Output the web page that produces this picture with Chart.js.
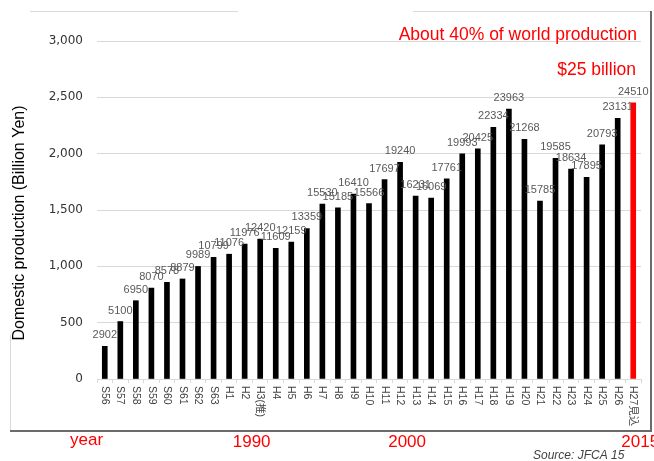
<!DOCTYPE html>
<html>
<head>
<meta charset="utf-8">
<script src="https://cdn.jsdelivr.net/npm/chart.js@4.4.1/dist/chart.umd.min.js"></script>
<style>
  html, body { margin: 0; padding: 0; background: #ffffff; }
  canvas { display: block; }
</style>
</head>
<body>
<canvas id="chart" width="654" height="461"></canvas>
<script>
// Fiscal years (Showa / Heisei era)
const categories = [
  'S56', 'S57', 'S58', 'S59', 'S60', 'S61', 'S62', 'S63',
  'H1', 'H2', 'H3(推)', 'H4', 'H5', 'H6', 'H7', 'H8', 'H9', 'H10',
  'H11', 'H12', 'H13', 'H14', 'H15', 'H16', 'H17', 'H18', 'H19', 'H20',
  'H21', 'H22', 'H23', 'H24', 'H25', 'H26', 'H27見込'
];

// Domestic production, in units of 100 million yen
const production = [
  2902, 5100, 6950, 8070, 8578, 8879, 9989, 10799,
  11076, 11976, 12420, 11609, 12159, 13359, 15530, 15185, 16410, 15566,
  17697, 19240, 16231, 16069, 17761, 19993, 20425, 22334, 23963, 21268,
  15785, 19585, 18634, 17895, 20793, 23131, 24510
];

// Calendar years marked under the axis, keyed by category
const yearMarkCategories = ['H2', 'H12', 'H27見込'];
const yearMarkLabels = ['1990', '2000', '2015'];

const headline = 'About 40% of world production';
const subHeadline = '$25 billion';
const axisTitle = 'Domestic production (Billion Yen)';
const sourceNote = 'Source: JFCA 15';

const RED = '#ff0000';

// Outer frame around the figure
const framePlugin = {
  id: 'frame',
  beforeDraw(chart) {
    const ctx = chart.ctx;
    ctx.save();
    ctx.strokeStyle = '#d9d9d9';
    ctx.lineWidth = 1;
    ctx.beginPath();
    ctx.moveTo(30, 11.5); ctx.lineTo(238, 11.5);
    ctx.moveTo(413, 11.5); ctx.lineTo(651, 11.5);
    ctx.moveTo(10.5, 335); ctx.lineTo(10.5, 430);
    ctx.stroke();
    ctx.strokeStyle = '#6b6b6b';
    ctx.lineWidth = 2;
    ctx.beginPath();
    ctx.moveTo(651, 11); ctx.lineTo(651, 431);
    ctx.moveTo(10, 431); ctx.lineTo(652, 431);
    ctx.stroke();
    ctx.restore();
  }
};

// Value printed above each bar
const valueLabelPlugin = {
  id: 'valueLabels',
  afterDatasetsDraw(chart) {
    const ctx = chart.ctx;
    const meta = chart.getDatasetMeta(0);
    const values = chart.data.datasets[0].data;
    ctx.save();
    ctx.font = '11px "Liberation Sans", Arial, sans-serif';
    ctx.fillStyle = '#595959';
    ctx.textAlign = 'center';
    ctx.textBaseline = 'alphabetic';
    meta.data.forEach((bar, i) => {
      ctx.fillText(String(values[i]), bar.x, bar.y - 8);
    });
    ctx.restore();
  }
};

// Category labels, rotated to read top to bottom
const categoryLabelPlugin = {
  id: 'categoryLabels',
  afterDraw(chart) {
    const ctx = chart.ctx;
    const xs = chart.scales.x;
    const top = chart.chartArea.bottom + 7;
    ctx.save();
    ctx.font = '10.5px "Liberation Sans", Arial, "Noto Sans CJK JP", sans-serif';
    ctx.fillStyle = '#404040';
    ctx.textAlign = 'left';
    ctx.textBaseline = 'middle';
    chart.data.labels.forEach((label, i) => {
      ctx.save();
      ctx.translate(xs.getPixelForValue(i), top);
      ctx.rotate(Math.PI / 2);
      ctx.fillText(label, 0, 0);
      ctx.restore();
    });
    ctx.restore();
  }
};

// Headline, axis title, year marks and source line
const annotationPlugin = {
  id: 'annotations',
  afterDraw(chart) {
    const ctx = chart.ctx;
    const xs = chart.scales.x;
    ctx.save();

    // y-axis title
    ctx.save();
    ctx.translate(20, 223);
    ctx.rotate(-Math.PI / 2);
    ctx.font = '16px "Liberation Sans", Arial, sans-serif';
    ctx.fillStyle = '#000000';
    ctx.textAlign = 'center';
    ctx.textBaseline = 'middle';
    ctx.fillText(axisTitle, 0, 0);
    ctx.restore();

    // headline
    ctx.fillStyle = RED;
    ctx.textBaseline = 'alphabetic';
    ctx.textAlign = 'right';
    ctx.font = '17.5px "Liberation Sans", Arial, sans-serif';
    ctx.fillText(headline, 637, 40);
    ctx.fillText(subHeadline, 636, 75);

    // year marks
    ctx.font = '17px "Liberation Sans", Arial, sans-serif';
    ctx.textAlign = 'left';
    ctx.fillText('year', 70, 445);
    ctx.textAlign = 'center';
    yearMarkCategories.forEach((cat, i) => {
      const x = xs.getPixelForValue(categories.indexOf(cat)) + 7;
      ctx.fillText(yearMarkLabels[i], x, 447);
    });

    // source
    ctx.fillStyle = '#404040';
    ctx.textAlign = 'left';
    ctx.font = 'italic 12px "Liberation Sans", Arial, sans-serif';
    ctx.fillText(sourceNote, 533, 459);

    ctx.restore();
  }
};

const ctx = document.getElementById('chart').getContext('2d');
new Chart(ctx, {
  type: 'bar',
  data: {
    labels: categories,
    datasets: [{
      data: production,
      backgroundColor: production.map((v, i) => i === production.length - 1 ? RED : '#000000'),
      barThickness: 5,
      borderWidth: 0
    }]
  },
  options: {
    responsive: false,
    animation: false,
    devicePixelRatio: 1,
    layout: { padding: { top: 41, right: 13, left: 0, bottom: 0 } },
    plugins: {
      legend: { display: false },
      tooltip: { enabled: false }
    },
    scales: {
      x: {
        offset: true,
        afterFit(scale) { scale.height = 82; },
        ticks: { display: false },
        grid: {
          offset: true,
          drawOnChartArea: false,
          drawTicks: true,
          tickLength: 4,
          color: '#d9d9d9'
        },
        border: { display: true, color: '#d9d9d9' }
      },
      y: {
        min: 0,
        max: 30000,
        afterFit(scale) { scale.width = 97; },
        ticks: {
          stepSize: 5000,
          padding: 14,
          color: '#333333',
          font: { family: '"DejaVu Sans", Verdana, sans-serif', size: 12 },
          callback: (v) => (v / 10).toLocaleString('en-US')
        },
        grid: { color: '#d9d9d9', drawTicks: false },
        border: { display: false }
      }
    }
  },
  plugins: [framePlugin, valueLabelPlugin, categoryLabelPlugin, annotationPlugin]
});
</script>
</body>
</html>
